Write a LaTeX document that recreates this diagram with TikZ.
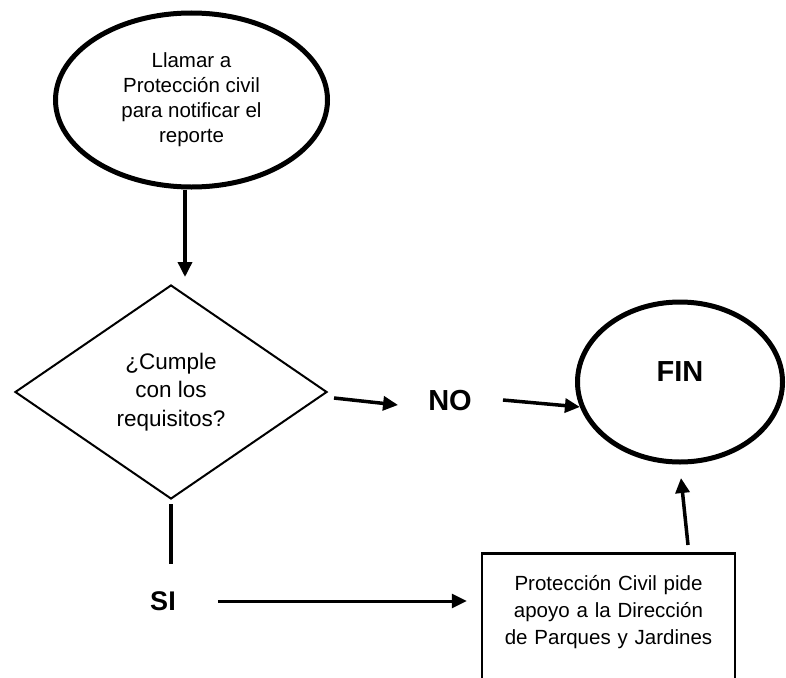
\documentclass[tikz,border=0pt]{standalone}
\usepackage{fontspec}
\setmainfont{Liberation Sans}
\usetikzlibrary{shapes.geometric, arrows.meta, positioning, calc}

\begin{document}
\begin{tikzpicture}[x=1pt, y=-1pt,
  oval/.style={draw, ellipse, line width=5pt, inner sep=0pt, align=center},
  decision/.style={draw, diamond, line width=2pt, inner sep=0pt, align=center,
                   font=\fontsize{22.5}{28.5}\selectfont},
  box/.style={draw, rectangle, line width=2.5pt, align=center, text width=215pt,
              inner xsep=19pt, inner ysep=23pt, text height=14pt, text depth=130pt,
              font=\fontsize{20.5}{27}\selectfont},
  answer/.style={inner sep=0pt, font=\bfseries\fontsize{29}{29}\selectfont},
  arr/.style={-{Triangle[length=15pt, width=14pt]}, line width=3.5pt},
  link/.style={line width=4pt}]
  \clip (0,0) rectangle (786,677);
  \node[oval, minimum width=272pt, minimum height=174pt,
        font=\fontsize{20.5}{25}\selectfont] (llamar) at (191.5,100)
    {Llamar a\\ Protección civil\\ para notificar el\\ reporte};
  \node[decision, minimum width=312pt, minimum height=214pt] (cumple) at (171,392)
    {¿Cumple\\ con los\\ requisitos?};
  \node[answer] (no) at (450,401) {NO};
  \node[answer, font=\bfseries\fontsize{27}{27}\selectfont] (si) at (163,601) {SI};
  \node[oval, answer, minimum width=205pt, minimum height=160pt,
        text height=21pt, text depth=22pt] (fin) at (680,382) {FIN};
  \node[box, anchor=north] (apoyo) at (608.5,552)
    {Protección Civil pide\\ apoyo a la Dirección\\ de Parques y Jardines};
  \draw[arr] ([xshift=-6.5pt]llamar.south) -- ([shift={(14pt,7pt)}]cumple.north);
  \draw[arr] ([shift={(6pt,-6pt)}]cumple.east) -- ([shift={(-30pt,-4pt)}]no.west);
  \draw[arr] ([shift={(31pt,1pt)}]no.east) -- (fin.194);
  \draw[link, shorten <=4pt, shorten >=27pt] (cumple.south) -- (cumple.south |- si.north);
  \draw[arr, line width=3pt, shorten <=42pt, shorten >=14pt] (si.east) -- (si.east -| apoyo.west);
  \draw[arr] ([shift={(79.5pt,7pt)}]apoyo.north) -- ([shift={(1pt,-13.5pt)}]fin.south);
\end{tikzpicture}
\end{document}
